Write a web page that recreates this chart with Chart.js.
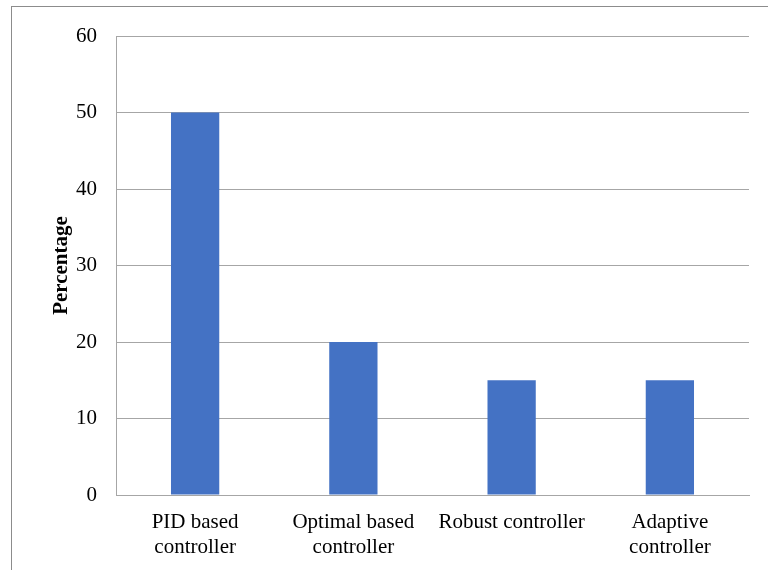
<!DOCTYPE html>
<html>
<head>
<meta charset="utf-8">
<script src="https://cdn.jsdelivr.net/npm/chart.js@4"></script>
<style>
  body { margin: 0; background: #fff; }
  #wrap { width: 768px; height: 570px; position: relative; }
</style>
</head>
<body>
<div id="wrap"><canvas id="chart"></canvas></div>
<script>
const categories = [['PID based', 'controller'], ['Optimal based', 'controller'], 'Robust controller', ['Adaptive', 'controller']];
const percentages = [50, 20, 15, 15];
const yTicks = [0, 10, 20, 30, 40, 50, 60];

// outer frame, only top and left edges show in the picture
const framePlugin = {
  id: 'frame',
  beforeDraw(chart) {
    const ctx = chart.ctx;
    ctx.save();
    ctx.strokeStyle = '#8c8c8c';
    ctx.lineWidth = 1;
    ctx.strokeRect(11.5, 6.5, 780, 600);
    ctx.restore();
  }
};

const config = {
  type: 'bar',
  data: {
    labels: categories,
    datasets: [{
      label: 'Percentage',
      data: percentages,
      backgroundColor: '#4472C4',
      categoryPercentage: 1,
      barPercentage: 0.305
    }]
  },
  options: {
    responsive: true,
    maintainAspectRatio: false,
    animation: false,
    layout: { padding: { top: 36, right: 19, bottom: 0, left: 0 } },
    plugins: {
      legend: { display: false },
      tooltip: { enabled: false }
    },
    scales: {
      x: {
        grid: { display: false, drawTicks: false },
        border: { color: '#a6a6a6', width: 1 },
        ticks: {
          color: '#000',
          padding: 15,
          maxRotation: 0,
          autoSkip: false,
          font: { family: 'Liberation Serif', size: 21, lineHeight: 1.2 }
        },
        afterFit(scale) { scale.height = 75; }
      },
      y: {
        min: 0,
        max: 60,
        afterBuildTicks(scale) { scale.ticks = yTicks.map(v => ({ value: v })); },
        grid: { color: '#a6a6a6', drawTicks: false },
        border: { color: '#a6a6a6', width: 1 },
        ticks: {
          color: '#000',
          padding: 19,
          font: { family: 'Liberation Serif', size: 21 }
        },
        title: {
          display: true,
          text: 'Percentage',
          color: '#000',
          padding: { top: 49, bottom: 0 },
          font: { family: 'Liberation Serif', size: 21, weight: 'bold' }
        },
        afterFit(scale) { scale.width = 116; }
      }
    }
  },
  plugins: [framePlugin]
};

new Chart(document.getElementById('chart'), config);
</script>
</body>
</html>
